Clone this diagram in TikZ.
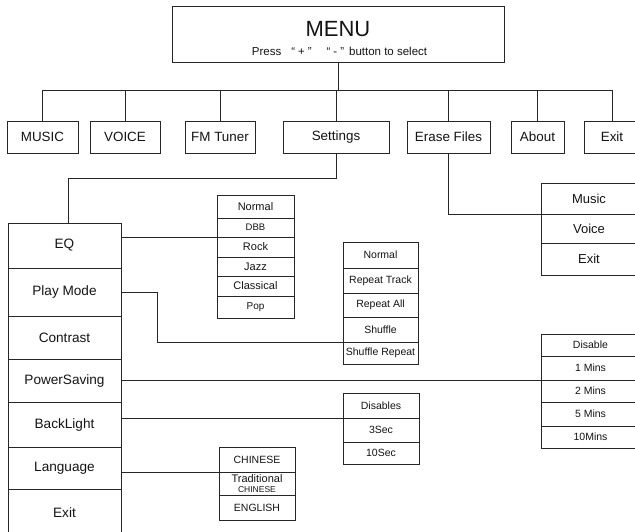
\documentclass[tikz,border=0pt]{standalone}
\usepackage{fontspec}
\setmainfont{Liberation Sans}
\definecolor{linecol}{gray}{0.15}
\definecolor{textcol}{gray}{0.08}
\newcommand\cellbox[7][]{\node[cell,#1,minimum width={(#5-#3)*1pt},minimum height={(#6-#4)*1pt}] (#2) at ({(#3+#5)/2},{(#4+#6)/2}) {#7};}
\newcommand\fs[1]{\fontsize{#1}{#1}\selectfont}
\begin{document}
\begin{tikzpicture}[x=1pt,y=-1pt,
  cell/.style={draw=linecol,line width=0.9pt,rectangle,inner sep=0pt,outer sep=0pt,text=textcol,align=center},
  conn/.style={draw=linecol,line width=0.8pt},
  top/.style={font=\fs{13.4}},
  side/.style={font=\fs{13.6}},
  small/.style={font=\fs{10.5}},
  mid/.style={font=\fs{11}}]
\useasboundingbox (0,0) rectangle (635,532);
\clip (0,0) rectangle (635,532);
\fill[white] (0,0) rectangle (635,532);
% menu
\cellbox{menu}{172}{6}{504}{62}{}
\node[text=textcol,font=\fs{22}] (menut) at (338,29) {MENU};
\node[text=textcol,font=\fs{11.5}] (menus) at (339.5,51) {Press\hspace{10pt}“\hspace{3pt}+\hspace{3pt}”\hspace{15pt}“\hspace{3pt}-\hspace{3pt}”\hspace{5pt}button to select};
% top row
\cellbox[top]{music}{7}{121}{78}{153}{MUSIC}
\cellbox[top]{voice}{90}{121}{160}{153}{VOICE}
\cellbox[top]{fm}{185}{121}{255}{153}{FM Tuner}
\cellbox[top]{settings}{283}{121}{389}{153}{Settings}
\cellbox[top]{erase}{407}{121}{490}{153}{Erase Files}
\cellbox[top]{about}{511}{121}{564}{153}{About}
\cellbox[top]{exitt}{584}{121}{640}{153}{Exit}
% left column
\cellbox[side]{eq}{8}{223}{121}{268}{EQ}
\cellbox[side]{playmode}{8}{268}{121}{316}{Play Mode}
\cellbox[side]{contrast}{8}{316}{121}{359}{Contrast}
\cellbox[side]{powersaving}{8}{359}{121}{402}{PowerSaving}
\cellbox[side]{backlight}{8}{402}{121}{447}{BackLight}
\cellbox[side]{language}{8}{447}{121}{489}{Language}
\cellbox[side]{exitl}{8}{489}{121}{537}{Exit}
% EQ options
\cellbox[mid]{norm}{217}{195}{294}{218}{Normal}
\cellbox[font=\fs{9.5}]{dbb}{217}{218}{294}{237}{DBB}
\cellbox[mid]{rock}{217}{237}{294}{257}{Rock}
\cellbox[mid]{jazz}{217}{257}{294}{276}{Jazz}
\cellbox[mid]{classical}{217}{276}{294}{296}{Classical}
\cellbox[font=\fs{10}]{pop}{217}{296}{294}{318}{Pop}
% play mode options
\cellbox[small]{pnormal}{343}{242}{418}{268}{Normal}
\cellbox[small]{rtrack}{343}{268}{418}{293}{Repeat Track}
\cellbox[small]{rall}{343}{293}{418}{317}{Repeat All}
\cellbox[small]{shuffle}{343}{317}{418}{342}{Shuffle}
\cellbox[small]{srepeat}{343}{342}{418}{364}{Shuffle Repeat}
% power saving options
\cellbox[small]{disable}{541}{334}{640}{356}{Disable}
\cellbox[small]{m1}{541}{356}{640}{380}{1 Mins}
\cellbox[small]{m2}{541}{380}{640}{402}{2 Mins}
\cellbox[small]{m5}{541}{402}{640}{426}{5 Mins}
\cellbox[small]{m10}{541}{426}{640}{448}{10Mins}
% backlight options
\cellbox[small]{disables}{343}{393}{419}{418}{Disables}
\cellbox[small]{s3}{343}{418}{419}{442}{3Sec}
\cellbox[small]{s10}{343}{442}{419}{464}{10Sec}
% language options
\cellbox[small]{chinese}{219}{447}{295}{472}{CHINESE}
\cellbox[font=\fontsize{11}{9.5}\selectfont]{trad}{219}{472}{295}{495}{Traditional\\{\fs{8.5}CHINESE}}
\cellbox[small]{english}{219}{495}{295}{520}{ENGLISH}
% erase options
\cellbox[font=\fs{13}]{rmusic}{541}{183}{637}{214}{Music}
\cellbox[font=\fs{13}]{rvoice}{541}{214}{637}{243}{Voice}
\cellbox[font=\fs{13}]{rexit}{541}{243}{637}{275}{Exit}
% connectors
\coordinate (busL) at (43,90);
\coordinate (busR) at (612,90);
\draw[conn] (menu.south) -- (menu.south |- busL);
\draw[conn] (busL) -- (busR);
\foreach \n in {music,voice,fm,settings,erase,about,exitt}
  \draw[conn] (\n.north) -- (\n.north |- busL);
\coordinate (setK) at (68,178);
\draw[conn] (settings.south) |- (setK) -- (setK |- eq.north);
\draw[conn] (erase.south) |- (rmusic.south west);
\draw[conn] (eq.east |- dbb.south) -- (dbb.south west);
\coordinate (pmK) at (157,342);
\draw[conn] (playmode.east) -| (pmK) -- (shuffle.south west);
\draw[conn] (powersaving.east |- m1.south) -- ([xshift=13pt]m1.south west);
\draw[conn] (backlight.east |- disables.south) -- (disables.south west);
\draw[conn] (language.east |- chinese.south) -- (chinese.south west);
\end{tikzpicture}
\end{document}
